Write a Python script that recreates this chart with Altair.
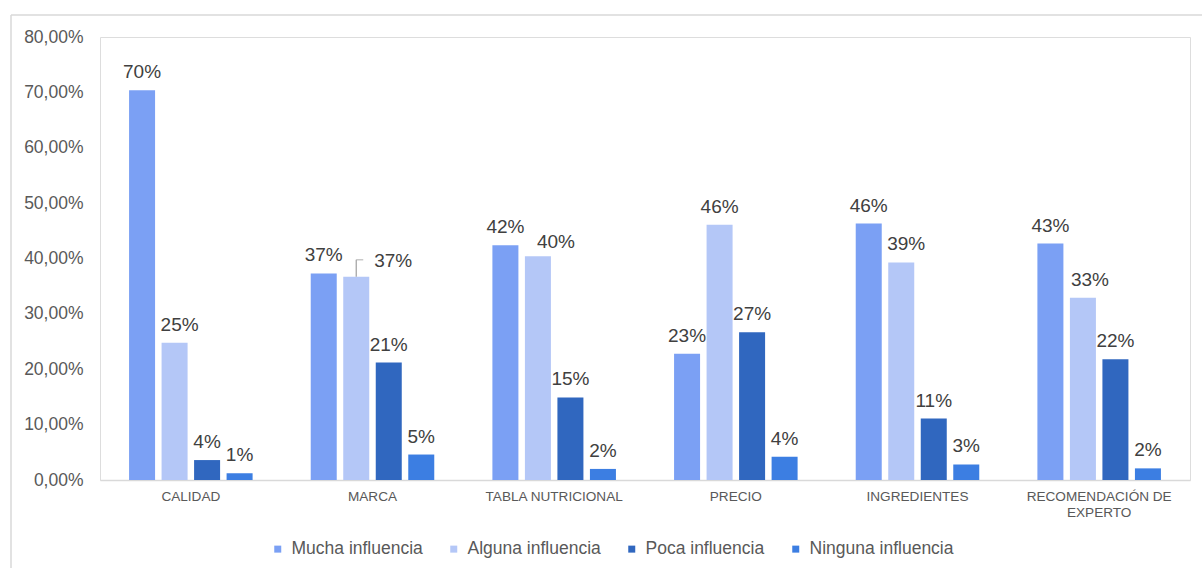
import altair as alt
import pandas as pd

# Factores que influyen en la decisión de compra (% de respuestas)
categories = [
    "CALIDAD",
    "MARCA",
    "TABLA NUTRICIONAL",
    "PRECIO",
    "INGREDIENTES",
    "RECOMENDACIÓN DE EXPERTO",
]
series = ["Mucha influencia", "Alguna influencia", "Poca influencia", "Ninguna influencia"]
mucha = [70.4, 37.3, 42.4, 22.8, 46.3, 42.7]
alguna = [24.8, 36.7, 40.4, 46.1, 39.3, 32.9]
poca = [3.6, 21.2, 14.9, 26.7, 11.1, 21.8]
ninguna = [1.2, 4.6, 2.0, 4.2, 2.8, 2.1]
colors = ["#7BA0F4", "#B4C7F7", "#3067BF", "#3C7EE2"]

rows = []
for i, cat in enumerate(categories):
    for name, vals in zip(series, [mucha, alguna, poca, ninguna]):
        rows.append({"categoria": cat, "serie": name, "valor": vals[i]})
df = pd.DataFrame(rows)

FONT = "Liberation Sans"
AXIS_GRAY = "#595959"
LABEL_GRAY = "#404040"
LINE_GRAY = "#D9D9D9"
LEADER_GRAY = "#A6A6A6"

WIDTH = 1090
HEIGHT = 443
CAT_PAD_INNER = 0.32
SER_PAD_INNER = 0.2

x_scale = alt.Scale(paddingInner=CAT_PAD_INNER, paddingOuter=CAT_PAD_INNER / 2)
x_axis = alt.Axis(
    title=None,
    labelAngle=0,
    ticks=False,
    domainColor=LINE_GRAY,
    domainWidth=1.5,
    labelColor=AXIS_GRAY,
    labelFontSize=13.6,
    labelPadding=9,
    labelLineHeight=16,
    labelExpr="datum.value == 'RECOMENDACIÓN DE EXPERTO' ? ['RECOMENDACIÓN DE', 'EXPERTO'] : datum.label",
)
x_enc = alt.X("categoria:N", sort=categories, scale=x_scale, axis=x_axis)
xoff_enc = alt.XOffset(
    "serie:N", sort=series, scale=alt.Scale(paddingInner=SER_PAD_INNER, paddingOuter=0)
)
y_enc = alt.Y(
    "valor:Q",
    scale=alt.Scale(domain=[0, 80], nice=False),
    axis=alt.Axis(
        title=None,
        values=list(range(0, 81, 10)),
        domain=False,
        ticks=False,
        grid=False,
        labelExpr="replace(format(datum.value, '.2f'), '.', ',') + '%'",
        labelFontSize=17.5,
        labelColor=AXIS_GRAY,
        labelPadding=17,
    ),
)

base = alt.Chart(df).transform_calculate(
    etiqueta="format(datum.valor, '.0f') + '%'"
)

bars = base.mark_bar().encode(
    x=x_enc,
    xOffset=xoff_enc,
    y=y_enc,
    color=alt.Color(
        "serie:N",
        sort=series,
        scale=alt.Scale(domain=series, range=colors),
        legend=alt.Legend(
            title=None,
            orient="none",
            direction="horizontal",
            legendX=169,
            legendY=503,
            symbolType="square",
            symbolSize=49,
            symbolStrokeWidth=0,
            labelFontSize=17.5,
            labelColor=AXIS_GRAY,
            labelOffset=5,
            columnPadding=22,
        ),
    ),
)

# Value labels sit above their bars; a few are nudged (dx, dy) so they do not
# collide with the label of the neighbouring bar.
DEFAULT_DY = -12
label_nudges = {
    ("CALIDAD", "Alguna influencia"): (5, -12),
    ("MARCA", "Alguna influencia"): (37, -10),
    ("TABLA NUTRICIONAL", "Alguna influencia"): (18, -8),
    ("INGREDIENTES", "Alguna influencia"): (5, -12),
    ("RECOMENDACIÓN DE EXPERTO", "Alguna influencia"): (7, -12),
}


def match(cat, name):
    return f"(datum.categoria == '{cat}' && datum.serie == '{name}')"


nudged_any = " || ".join(match(c, s) for c, s in label_nudges)

label_layers = [
    base.transform_filter(f"!({nudged_any})")
    .mark_text(baseline="alphabetic", dy=DEFAULT_DY, fontSize=19, color=LABEL_GRAY)
    .encode(x=x_enc, xOffset=xoff_enc, y=y_enc, text="etiqueta:N")
]
for (cat, name), (ddx, ddy) in label_nudges.items():
    label_layers.append(
        base.transform_filter(match(cat, name))
        .mark_text(baseline="alphabetic", dx=ddx, dy=ddy, fontSize=19, color=LABEL_GRAY)
        .encode(x=x_enc, xOffset=xoff_enc, y=y_enc, text="etiqueta:N")
    )

# leader from the MARCA / Alguna bar to its displaced label
leader_sel = match("MARCA", "Alguna influencia")
LEADER_RISE = 17
LEADER_RUN = 7

leader_v = base.transform_filter(leader_sel).mark_rule(
    color=LEADER_GRAY, strokeWidth=1.3, y2Offset=-LEADER_RISE
).encode(x=x_enc, xOffset=xoff_enc, y=y_enc, y2=alt.Y2("valor:Q"))

# the horizontal piece is a tick placed relative to the category centre
band_width = WIDTH / len(categories) * (1 - CAT_PAD_INNER)
n_series = len(series)
second_bar_centre = (1 + (1 - SER_PAD_INNER) / 2) / (n_series - SER_PAD_INNER)
tick_shift = (second_bar_centre - 0.5) * band_width + LEADER_RUN / 2

leader_h = base.transform_filter(leader_sel).mark_tick(
    orient="horizontal", size=LEADER_RUN, thickness=1.3, color=LEADER_GRAY,
    xOffset=tick_shift, yOffset=-LEADER_RISE,
).encode(x=x_enc, y=y_enc)

# light frame around the whole figure
frame_df = pd.DataFrame({"k": [0]})
frame_left = alt.Chart(frame_df).mark_rule(color=LINE_GRAY, strokeWidth=1.5).encode(
    x=alt.value(-89), y=alt.value(-22), y2=alt.value(600)
)
frame_top = alt.Chart(frame_df).mark_rule(color=LINE_GRAY, strokeWidth=1.5).encode(
    x=alt.value(-89), x2=alt.value(1200), y=alt.value(-22)
)

chart = (
    alt.layer(frame_left, frame_top, bars, *label_layers, leader_v, leader_h)
    .properties(
        width=WIDTH,
        height=HEIGHT,
        autosize=alt.AutoSizeParams(type="none"),
        padding={"left": 100, "top": 37, "right": 12, "bottom": 88},
        background="white",
    )
    .configure_view(stroke=None)
    .configure(font=FONT)
)

chart.save("out.html", embed_options={"renderer": "svg", "actions": False})
